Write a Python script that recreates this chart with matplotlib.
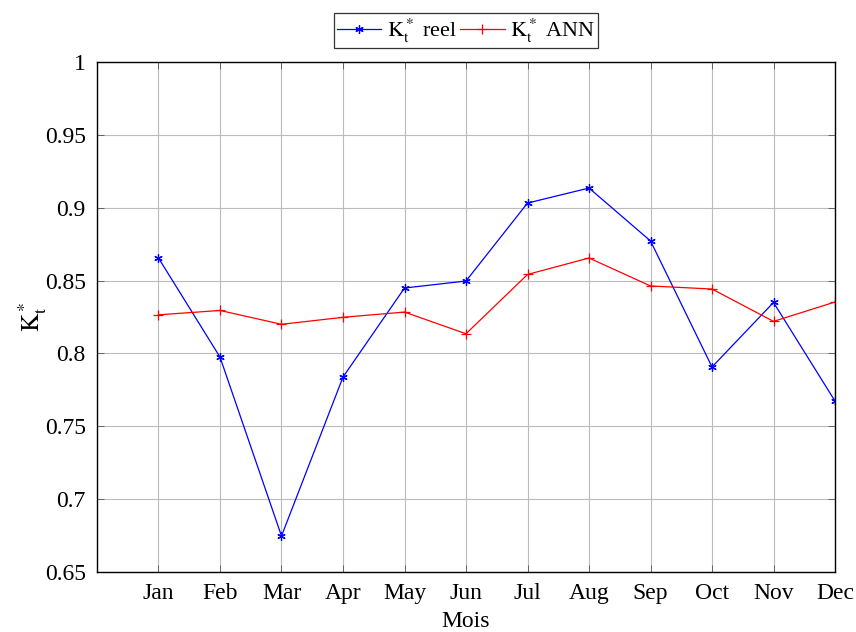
import matplotlib.pyplot as plt

plt.rcParams['font.family'] = 'Liberation Serif'
plt.rcParams['mathtext.fontset'] = 'stix'

months = ['Jan', 'Feb', 'Mar', 'Apr', 'May', 'Jun',
          'Jul', 'Aug', 'Sep', 'Oct', 'Nov', 'Dec']
kt_reel = [0.8655, 0.7975, 0.6747, 0.7838, 0.8449, 0.8497,
           0.9032, 0.9135, 0.8772, 0.7907, 0.8350, 0.7673]
kt_ann = [0.8265, 0.8295, 0.8200, 0.8248, 0.8284, 0.8135,
          0.8542, 0.8655, 0.8463, 0.8442, 0.8220, 0.8353]
x = list(range(1, len(months) + 1))

fig = plt.figure(figsize=(8.56, 6.32), dpi=100)
ax = fig.add_axes([0.1133, 0.0949, 0.8622, 0.807])

ax.plot(x, kt_reel, color='blue', lw=0.9, marker=(6, 2, 0), ms=6,
        mew=0.9, label=r'$\mathrm{K_t^*}$ reel')
ax.plot(x, kt_ann, color='red', lw=0.9, marker='+', ms=7,
        mew=0.9, label=r'$\mathrm{K_t^*}$ ANN')

ax.set_xlim(0, 12)
ax.set_ylim(0.65, 1)
ax.set_xticks(x)
ax.set_xticklabels(months)
ax.set_yticks([0.65, 0.7, 0.75, 0.8, 0.85, 0.9, 0.95, 1])
ax.set_yticklabels(['0.65', '0.7', '0.75', '0.8', '0.85', '0.9', '0.95', '1'])
ax.tick_params(direction='in', length=5, labelsize=17, top=True, right=True,
               width=0.6, color='#555555', pad=8)
ax.grid(True, color='#bbbbbb', lw=0.8)
ax.set_axisbelow(True)
for s in ax.spines.values():
    s.set_linewidth(1.0)

ax.set_xlabel('Mois', fontsize=17, labelpad=5)
ax.set_ylabel(r'$\mathrm{K_t^*}$', fontsize=18, labelpad=-3)

leg = ax.legend(loc='lower center', bbox_to_anchor=(0.5, 1.027), ncol=2,
                fontsize=16, frameon=True, fancybox=False, edgecolor='black',
                handlelength=2.0, columnspacing=0.15, handletextpad=0.25,
                borderpad=0.15, borderaxespad=0)
leg.get_frame().set_linewidth(0.9)

fig.savefig('out.png', dpi=100)
